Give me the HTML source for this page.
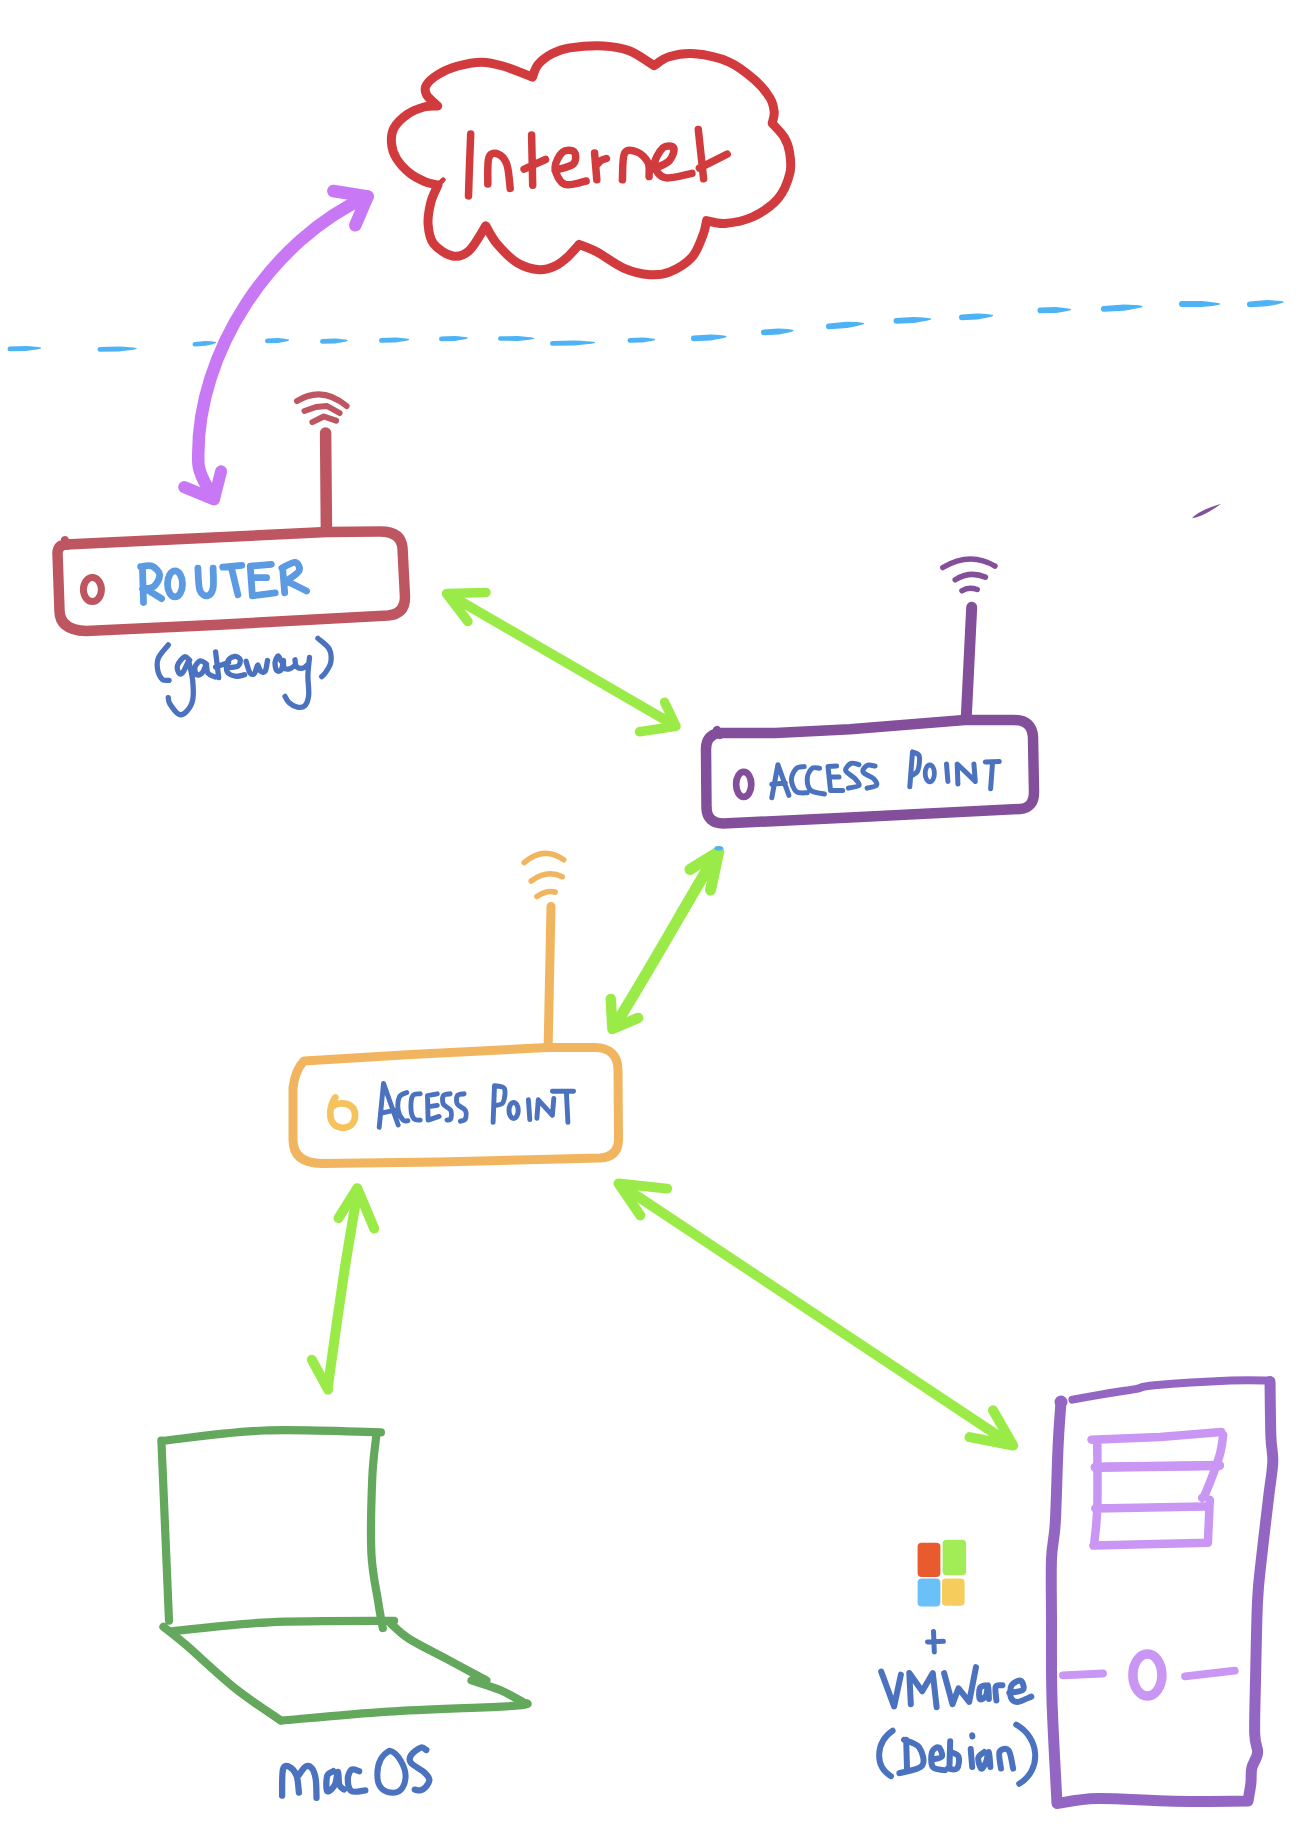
<!DOCTYPE html>
<html><head><meta charset="utf-8"><title>Network diagram</title>
<style>
html,body{margin:0;padding:0;background:#fff;}
body{width:1310px;height:1847px;overflow:hidden;font-family:"Liberation Sans",sans-serif;}
svg{display:block;}
</style></head><body>
<svg width="1310" height="1847" viewBox="0 0 1310 1847" fill="none" stroke-linecap="round" stroke-linejoin="round">
<rect width="1310" height="1847" fill="#fff"/>
<path d="M9.7 346.6L25.9 346Q35.9 346.5 41 347.5L41 348.5Q36 349.8 26 350.9L9.9 351.2A2.3 2.3 0 0 1 9.7 346.6Z" fill="#4db3f4"/>
<path d="M99.7 347.1L118.9 346.5Q130.6 347 136.5 348L136.5 349Q130.7 350.3 119 351.4L99.9 351.7A2.3 2.3 0 0 1 99.7 347.1Z" fill="#4db3f4"/>
<path d="M194.6 342L205.2 341Q212.3 341.2 216 342L216 343Q212.6 344.4 205.6 345.8L195 346.6A2.3 2.3 0 0 1 194.6 342Z" fill="#4db3f4"/>
<path d="M267.2 338.6L278.1 338Q285.3 338.5 289 339.5L289 340.5Q285.5 341.8 278.3 342.9L267.4 343.2A2.3 2.3 0 0 1 267.2 338.6Z" fill="#4db3f4"/>
<path d="M322.2 339.1L335 338.5Q343.3 339 347.5 340L347.5 341Q343.4 342.3 335.2 343.4L322.4 343.7A2.3 2.3 0 0 1 322.2 339.1Z" fill="#4db3f4"/>
<path d="M381.2 338.1L395.4 337.5Q404.4 338 409 339L409 340Q404.6 341.3 395.6 342.4L381.4 342.7A2.3 2.3 0 0 1 381.2 338.1Z" fill="#4db3f4"/>
<path d="M441.2 336.6L454.6 336Q463.2 336.5 467.5 337.5L467.5 338.5Q463.3 339.8 454.8 340.9L441.4 341.2A2.3 2.3 0 0 1 441.2 336.6Z" fill="#4db3f4"/>
<path d="M500.3 336.2L517.8 336.1Q528.6 336.9 534 338L534 339Q528.6 340.1 517.8 340.9L500.3 340.8A2.3 2.3 0 0 1 500.3 336.2Z" fill="#4db3f4"/>
<path d="M552.2 341.1L574.7 340.5Q588.2 341 595 342L595 343Q588.3 344.3 574.8 345.4L552.4 345.7A2.3 2.3 0 0 1 552.2 341.1Z" fill="#4db3f4"/>
<path d="M629.7 338.1L642.5 337.5Q650.8 338 655 339L655 340Q650.9 341.3 642.7 342.4L629.9 342.7A2.3 2.3 0 0 1 629.7 338.1Z" fill="#4db3f4"/>
<path d="M693.7 335.4L710.4 334.4Q721.1 334.8 726.5 336L726.5 337Q721.3 338.8 710.7 340.4L694.1 341.2A2.9 2.9 0 0 1 693.7 335.4Z" fill="#4db3f4"/>
<path d="M763.7 329.4L778.7 328.4Q788.5 328.8 793.5 330L793.5 331Q788.7 332.8 779.1 334.4L764.1 335.2A2.9 2.9 0 0 1 763.7 329.4Z" fill="#4db3f4"/>
<path d="M828.7 323.4L846.7 321.8Q858.1 321.9 864 323L864 324Q858.5 326 847.1 327.9L829.1 329.2A2.9 2.9 0 0 1 828.7 323.4Z" fill="#4db3f4"/>
<path d="M895.7 318L913.7 316.9Q925.2 317.3 931 318.5L931 319.5Q925.4 321.3 914.1 322.9L896 323.7A2.9 2.9 0 0 1 895.7 318Z" fill="#4db3f4"/>
<path d="M961.7 314.4L977.5 313.4Q987.8 313.8 993 315L993 316Q988 317.8 977.9 319.4L962.1 320.2A2.9 2.9 0 0 1 961.7 314.4Z" fill="#4db3f4"/>
<path d="M1040.3 307.5L1055.8 306.9Q1065.9 307.6 1071 309L1071 310Q1066 311.7 1056 313L1040.5 313.3A2.9 2.9 0 0 1 1040.3 307.5Z" fill="#4db3f4"/>
<path d="M1103.7 305.9L1123.6 304.6Q1136.2 304.8 1142.5 306L1142.5 307Q1136.4 308.9 1124 310.7L1104.1 311.7A2.9 2.9 0 0 1 1103.7 305.9Z" fill="#4db3f4"/>
<path d="M1181.9 301.1L1201.5 301Q1213.8 302 1220 303.5L1220 304.5Q1213.8 306 1201.5 307L1181.9 306.9A2.9 2.9 0 0 1 1181.9 301.1Z" fill="#4db3f4"/>
<path d="M1249.7 301.4L1266.9 300.1Q1277.9 300.3 1283.5 301.5L1283.5 302.5Q1278.2 304.4 1267.3 306.2L1250.1 307.2A2.9 2.9 0 0 1 1249.7 301.4Z" fill="#4db3f4"/>
<path d="M438 185C435.9 184.5 429.9 183.7 425.3 181.8C420.7 179.9 415 177.5 410.2 173.6C405.4 169.7 399.6 163.5 396.5 158.5C393.4 153.5 391.9 148.5 391.5 143.4C391.1 138.3 391.3 132.9 394 128C396.7 123.1 402.5 117.7 407.5 114.2C412.5 110.7 419 108.4 424 107C429 105.6 435.4 106.2 437.7 106C435.9 104.2 428.6 98.5 426.7 95C424.8 91.5 424.4 88.7 426.2 85.3C428 81.9 432.6 77.9 437.7 74.7C442.8 71.5 449.7 68.4 457 66.3C464.3 64.2 473.9 62.2 481.7 62.2C489.5 62.2 495.2 63.8 503.7 66.3C512.2 68.8 527.7 75.3 532.5 77.1C533.4 75 534.8 68.6 538 64.7C541.2 60.8 546.6 56.6 551.9 53.8C557.2 51 561.2 49.2 569.8 47.9C578.4 46.6 593.6 45.4 603.5 45.9C613.4 46.4 620.9 47.5 629.3 50.8C637.7 54.1 650 63.2 654.1 65.7C656.6 64.2 662.2 58.8 669 56.8C675.8 54.8 684.9 53 694.8 53.8C704.7 54.6 718.7 57.5 728.6 61.8C738.5 66.1 747.5 73.6 754.4 79.6C761.3 85.6 766.7 92.6 770 98C773.3 103.4 773.8 107.8 774.2 112C774.6 116.2 772.5 121.4 772.2 123.3C774.2 125.6 781.2 132.4 784.1 137.2C787 142 788.5 146 789.5 152C790.5 158 791.8 165.2 789.9 173C788 180.8 784.2 191.3 778 198.6C771.8 205.9 761.2 212.9 752.4 217C743.5 221.1 732.5 222.8 724.9 223.4C717.3 224 709.6 221.1 706.6 220.6C706 223.1 705.4 229.2 702.9 235.3C700.4 241.4 697.4 251.2 691.9 257.3C686.4 263.4 676.9 269 669.9 271.9C662.9 274.8 657.4 275.3 649.8 274.7C642.2 274.1 633 272.1 624.1 268.3C615.2 264.5 604.1 255.8 596.6 251.8C589.1 247.8 582.1 245.6 579.2 244.4C577.2 246.6 571.2 253.8 567.3 257.3C563.4 260.8 560.6 263.4 556 265.5C551.4 267.6 545.8 270.2 539.4 269.8C533 269.4 524.5 267.2 517.4 262.9C510.3 258.5 502.1 249.9 496.8 243.7C491.5 237.5 487.6 228.8 485.8 225.8C483.1 229.9 474.8 245.5 469.3 250.5C463.8 255.5 458.8 257.1 452.8 256C446.9 254.9 437.7 249 433.6 243.7C429.5 238.4 428.6 231.3 428.1 224.4C427.6 217.5 429.2 209 430.8 202.4C432.4 195.8 436.8 187.9 438 185Z" stroke="#d13b3e" stroke-width="9" />
<path d="M437 186L443.2 179.8" stroke="#d13b3e" stroke-width="5" />
<path d="M470.7 133.9C470.5 139.1 469.9 154.7 469.5 165C469.1 175.3 468.7 190.8 468.5 195.9M487.8 184.1C488 179.7 487.1 162.4 488.9 157.4C490.7 152.4 495.5 152.9 498.5 154.2C501.5 155.4 505.1 159.2 507 164.9C508.9 170.6 509.7 184.5 510.2 188.4M531.6 135L532.7 185.2M524.1 169.2L545.5 159.5M555.1 170.4C558.1 169.3 570.1 167.1 573.3 164C576.5 160.9 576.1 154.1 574.3 152.1C572.5 150.1 565.8 149.4 562.6 152.1C559.4 154.8 554.8 162.7 555.1 168.1C555.5 173.5 559.5 182.2 564.7 184.3C569.9 186.5 582.5 181.6 586.1 181M594.6 153.1L596.8 179.8M596.8 164.9C597.5 164.2 599.4 161.6 601 160.5C602.6 159.4 605.5 158.8 606.4 158.5M622.4 179.8C622.8 175.4 622.1 157.7 624.6 153.1C627.1 148.5 633.5 150.5 637.4 152.1C641.3 153.7 646.1 158.6 648.1 162.7C650.1 166.8 648.9 174.3 649.1 176.6M653.4 169.2C656.1 167.8 666 164.2 669.4 160.6C672.8 157 674.8 149.9 673.7 147.8C672.6 145.7 666.2 145 663 147.8C659.8 150.7 654.1 159.9 654.5 164.9C654.9 169.9 659 176.3 665.2 177.7C671.4 179.1 687.5 174.1 691.9 173.4M698.3 129.6L703.6 178.8M699.4 168.1L727.2 154.2" stroke="#d13b3e" stroke-width="7.5" />
<path d="M214 497C203 482 197.5 470 198.3 459C196 352 272 239 367.6 196.5" stroke="#c878f5" stroke-width="12.5" />
<path d="M333.3 191L367.6 196.5L355.3 225.3" stroke="#c878f5" stroke-width="12.5" />
<path d="M184.2 487.1L214 499.4L221.1 471.3" stroke="#c878f5" stroke-width="12" />
<path d="M66 544.5L327 532L379 531.5Q401 531 402.5 548L405 597Q405 614 388 615.5L214 625L86 631Q60 630 59.5 611L57.5 553Q58 545 66 544.5Z" stroke="#bd5660" stroke-width="10.5" />
<path d="M65 540L67 546" stroke="#bd5660" stroke-width="8" />
<path d="M325.6 433L326.4 529.2" stroke="#bd5660" stroke-width="11.5" />
<path d="M297 401Q322.2 385.5 346.6 406M304.5 411L316 407L327 406L339.6 413M312.4 422.1L323.8 416.5L336.1 420.7" stroke="#bd5660" stroke-width="6" />
<ellipse cx="92.4" cy="589.6" rx="9" ry="12" stroke="#bd5660" stroke-width="7"/>
<path d="M142.5 569.1L143.5 602.5M140.6 566.6C142.5 566.5 148.9 564.8 152.1 566.2C155.3 567.6 159.4 571.4 159.7 574.8C160 578.1 156.9 583.9 154 586.3C151.1 588.7 144.4 588.6 142.5 589.1M146.3 589.1L161.6 598.7M197.9 568.1C198.2 571.8 198.2 585.5 199.8 590.1C201.4 594.7 205.2 596.1 207.4 595.8C209.6 595.5 212.2 592.8 213.1 588.2C214 583.6 213.1 571.5 213.1 568.1M222.7 567.2L241.8 565.3M231.3 567.2L237.9 594.8M250.3 567.2L252.3 594.8M250.3 566.2L271.3 564.3M251.3 577.7L266.6 577.7M252.3 595.8L275.2 592.9M282.8 570L284.7 592.9M281.8 568.1C284 567.1 292.3 561.9 295.2 562.4C298.1 562.9 300.6 567.8 299 571C297.4 574.2 287.8 579.8 285.6 581.5M285.6 580.5L306.6 591" stroke="#5c9be1" stroke-width="6.8" />
<ellipse cx="175" cy="583.9" rx="7.5" ry="13" stroke="#5c9be1" stroke-width="6.8"/>
<path d="M168.3 644.9C166.7 647.1 160.2 653.8 158.4 657.9C156.6 662 157 665.8 157.6 669.4C158.2 673 160.3 677.5 162.2 679.3C164.1 681.1 167.9 680.2 169.1 680.4M189.7 660.2C188.8 659.6 186.4 655.9 184.4 656.8C182.4 657.7 178.4 662.8 177.5 665.5C176.6 668.2 178.1 672.1 179 673.2C179.9 674.4 181.2 674.6 182.8 672.4C184.5 670.2 187.9 662.2 188.9 660.2M188.9 661.7C189.5 664.9 192.1 674.4 192.7 680.8C193.3 687.2 193.7 694.8 192.7 699.9C191.7 705 188.9 708.9 186.6 711.3C184.3 713.7 181.8 715.7 179 714.4C176.2 713.1 171.6 706.5 169.8 703.7C168 700.9 168.6 698.6 168.3 697.6M206.5 664C205.5 663.5 202.3 660.4 200.4 660.9C198.5 661.4 195.6 664.8 195 667.1C194.4 669.4 195.4 673.7 196.6 674.7C197.8 675.7 200.4 674.7 201.9 673.2C203.4 671.7 205.1 666.8 205.7 665.5M206.5 665.5C206.8 666.8 206.6 671.3 208 673.2C209.4 675.1 213.8 676.4 214.9 677M215.6 651.8L218.7 677.7M215.6 667.1L228.6 662.5M226.3 667.8C228.2 667.5 235.5 667.7 237.8 666.3C240.1 664.9 240.6 661 240.1 659.4C239.6 657.8 236.7 656.1 234.7 656.4C232.7 656.7 229.2 658.5 227.9 661C226.6 663.5 225.8 669.1 227.1 671.6C228.4 674.1 232.6 675.7 235.5 676.2C238.4 676.7 243.2 675 244.7 674.7M246.1 661.3C246.7 663.2 248.5 670.7 249.9 672.7C251.3 674.7 253.2 674.8 254.5 673.5C255.8 672.2 256.6 665.5 257.6 665.1C258.6 664.7 259.3 670.2 260.6 671.2C261.9 672.2 264.1 673 265.2 671.2C266.3 669.4 267.1 662.3 267.5 660.5M281.2 661.3C280.7 660.4 279.2 655.9 278.2 656C277.2 656.1 275.4 659.7 275.1 662.1C274.8 664.5 275.6 669.2 276.6 670.5C277.6 671.8 280.1 671.4 281.2 669.7C282.3 668 283.1 662 283.5 660.5M283.5 661C283.6 662.2 283.3 666.9 284.3 668.2C285.3 669.5 288.1 669.2 289.6 668.9C291.1 668.6 292.8 667 293.4 666.6M295 659.8C295.2 660.9 295.2 665.2 296.5 666.6C297.8 668 300.8 668.5 302.6 668.2C304.4 668 306.4 665.6 307.2 665.1M309.5 657.5C309.2 660.5 308 669.6 307.9 675.8C307.8 682 309.2 689.9 308.7 694.9C308.2 699.9 306.8 703.6 304.9 705.6C303 707.6 300 707.6 297.3 707.1C294.6 706.6 290.9 704.3 288.9 702.5C286.8 700.7 285.6 697.4 285 696.4M317.9 638.4C319.8 640.2 327.1 645.1 329.3 649.1C331.5 653.1 331.4 658.2 330.8 662.1C330.2 666 327 670.3 325.5 672.7C324 675.1 322.3 676 321.7 676.6" stroke="#4a72bf" stroke-width="5.3" />
<path d="M448 594L674 725" stroke="#9beb48" stroke-width="10" />
<path d="M486 592.5L446.5 593.5L467.9 621.5" stroke="#9beb48" stroke-width="9.5" />
<path d="M664.6 702.2L676 726.3L639.5 731.8" stroke="#9beb48" stroke-width="9.5" />
<path d="M717 853C682.2 910.7 649.8 969.9 614 1027" stroke="#9beb48" stroke-width="11.2" />
<path d="M689.9 869.5L718.8 851.6L710.5 890.1" stroke="#9beb48" stroke-width="11" />
<path d="M610.8 999L612.4 1029L638.1 1017.9" stroke="#9beb48" stroke-width="10.5" />
<ellipse cx="718.8" cy="848.2" rx="4.3" ry="2.3" fill="#4db3f4"/>
<path d="M357 1195C354.7 1209.2 347.8 1248.2 343 1280C338.2 1311.8 330.5 1368.3 328 1386" stroke="#9beb48" stroke-width="10" />
<path d="M338.5 1218.1L357.3 1188.2L374.2 1228.5" stroke="#9beb48" stroke-width="10" />
<path d="M311.8 1359.7L328.1 1389.6" stroke="#9beb48" stroke-width="10" />
<path d="M622 1186L1000 1437" stroke="#9beb48" stroke-width="10" />
<path d="M667.2 1188.6L618.5 1183.5L640.3 1215.4" stroke="#9beb48" stroke-width="10" />
<path d="M993 1410.3L1013.2 1445.5L969.5 1437.1" stroke="#9beb48" stroke-width="10" />
<path d="M718 733L775.5 733L850 729.3L964.8 720L1014 720Q1032 720 1033 737L1034 792Q1034 808 1020 809L850 817.5L723 823.5Q707 823 706.5 808L706 749Q706 736 718 733Z" stroke="#834f9a" stroke-width="10.5" />
<path d="M717 730L720 735" stroke="#834f9a" stroke-width="8" />
<path d="M971.7 607.3L966.2 718.6" stroke="#834f9a" stroke-width="11" />
<path d="M942.8 567.5Q970.1 551.2 995 566.1M955.2 579.8Q969.7 570.5 985.4 577.1M962 590.8Q968.4 586.4 977.2 589.5" stroke="#834f9a" stroke-width="5.5" />
<ellipse cx="743.7" cy="784.3" rx="7.6" ry="12.5" stroke="#834f9a" stroke-width="6.7"/>
<path d="M771.8 797.7L777.9 764.7L788.9 795.3M771.8 784.3L785.3 783M804.2 766.6C802.9 766.9 798.4 766.3 796.3 768.4C794.2 770.5 791.4 775.5 791.4 779.4C791.4 783.3 793.6 789.4 796.3 791.6C798.9 793.8 805.5 792.6 807.3 792.8M819.5 768.2C818.3 768.2 814.1 766.7 812.1 768.4C810.1 770.1 807.5 774.5 807.3 778.2C807.1 781.9 808 787.8 810.9 790.4C813.8 793 822.1 793.4 824.4 794M836.6 766L828 766.6L830.5 790.4L842.7 790.4M829.2 777L839 777M859 764.7C857.7 764.5 853.2 762.4 851 763.4C848.8 764.4 845 768.2 845.7 770.7C846.4 773.2 852.8 776.2 855 778.7C857.2 781.2 860.1 783.8 859 785.4C857.9 787 850.2 787.6 848.4 788.1M875.1 766C873.8 765.9 869.1 764.4 867.1 765.4C865.1 766.4 862 769.9 863.1 772.1C864.2 774.3 871.5 776.5 873.7 778.7C875.9 780.9 877.5 783.8 876.4 785.4C875.3 787 868.6 787.6 867.1 788.1M912.5 752L909.8 786.8M912.5 752C913.6 752.7 918.3 752.9 919.2 756C920.1 759.1 919.1 767.4 917.8 770.7C916.4 774.1 912.2 775.2 911.1 776.1M946.5 764L947.9 781.4M957.9 784.1L957.2 764L975.3 781.4L973.9 764M985.3 762L999.3 761.4M992.6 762L990.6 788.8" stroke="#4a72bf" stroke-width="5" />
<ellipse cx="929.8" cy="773.4" rx="4.6" ry="8.4" stroke="#4a72bf" stroke-width="4.8"/>
<path d="M1192 518.2Q1202.5 517.4 1221.1 503.7Q1198.9 510.3 1192 518.2Z" fill="#834f9a"/>
<path d="M304 1061L411.2 1054.6L546.8 1047.6L594.8 1047.6Q618 1048 618 1070L618.5 1140Q618 1157 600 1158L439.4 1162L322 1163.5Q293 1163 293 1140L293 1088Q295 1070 304 1061Z" stroke="#f2b55f" stroke-width="9" />
<path d="M551 906.4L548.2 1043.3" stroke="#f2b55f" stroke-width="9" />
<path d="M524.2 862.6Q544 845.8 563.7 859.8M531.2 881Q546.8 869.1 562.3 876.7M536.9 896.5Q547.5 889.6 555.2 892.2" stroke="#f2b55f" stroke-width="5.5" />
<path d="M335.3 1097.5C330 1105 327 1120 336 1126C344 1130 354 1127 355 1117C356 1106 348 1103 340 1103.5C335 1104 333 1106 332 1107" stroke="#f5c25c" stroke-width="6.7" />
<path d="M379.2 1127.4L383.5 1083.4L398.2 1125M383.5 1112.7L394.5 1110.3M406.7 1092.6C405.5 1093.3 400.8 1094 399.4 1096.9C398 1099.9 397.6 1106.4 398.2 1110.3C398.8 1114.2 401.5 1118.4 403.1 1120.1C404.7 1121.8 407.1 1120.6 407.9 1120.7M420.2 1093.8C419 1094.1 414.3 1093 412.8 1095.6C411.3 1098.1 410.8 1105.2 411 1109.1C411.2 1113 412.5 1117.1 414 1118.9C415.5 1120.7 419.2 1119.9 420.2 1120.1M437.3 1093.8L427.5 1095.6L428.1 1120.1L439.1 1116.4M428.7 1106.6L437.3 1105.4M450.1 1093.8C449 1094.1 444.5 1093.9 443.4 1095.6C442.3 1097.3 442.2 1101.8 443.4 1104.2C444.6 1106.7 449.5 1107.8 450.7 1110.3C451.9 1112.8 451.3 1117.3 450.7 1118.9C450.1 1120.5 447.6 1119.9 447 1120.1M464.1 1093.8C463 1094.1 458.5 1093.9 457.4 1095.6C456.3 1097.3 456.1 1101.8 457.4 1104.2C458.7 1106.7 464 1107.8 465.3 1110.3C466.6 1112.8 466.1 1117.1 465.3 1118.9C464.5 1120.7 461.3 1120.9 460.5 1121.3M493.1 1122.4L494.5 1085.7M494.5 1085.7C496.1 1086.2 503 1085.7 504.4 1088.5C505.8 1091.3 504.6 1099.8 503 1102.6C501.4 1105.4 495.9 1105 494.5 1105.5M528.4 1099.8L529.8 1119.6M536.9 1118.2L538.3 1099.8L552.4 1115.3L553.8 1098.4M552.4 1091.3L573.6 1091.3M566.5 1094.2L567.9 1122.4" stroke="#4a72bf" stroke-width="4.9" />
<ellipse cx="513.6" cy="1110.4" rx="4.6" ry="8" stroke="#4a72bf" stroke-width="5"/>
<path d="M161.5 1441C178.7 1439.2 227.9 1431.9 264.5 1430.5C301.1 1429.1 361.5 1432.1 380.9 1432.4M161.4 1440.5L169 1620.7M376.1 1437.2C375.5 1443.9 373.1 1457.9 372.3 1477.3C371.5 1496.7 370.4 1532.9 371.4 1553.6C372.4 1574.3 376.2 1588.9 378.1 1601.3C380 1613.7 382 1623.5 382.8 1628M170.8 1631.3C187.2 1629.8 231.9 1624 269.1 1622.3C306.3 1620.5 373.3 1621 394.1 1620.8M163.4 1626.8C167.1 1629.8 173.5 1634.3 185.7 1644.7C197.8 1655.1 220.4 1676.7 236.3 1689.3C252.2 1701.9 273.6 1715.4 281 1720.6M281 1720.6C298.9 1719.1 349 1714.1 388.2 1711.6C427.4 1709.1 493.9 1707.3 516.2 1705.7C538.5 1704.1 521.1 1702.6 522.1 1702M522.1 1701.5C518.4 1699.6 508.4 1693.5 500 1690C491.6 1686.5 476.2 1682 471.5 1680.4M486.4 1680.4C479.9 1676.9 460.6 1666.5 447.7 1659.5C434.8 1652.5 418.4 1644.7 409 1638.7C399.6 1632.8 394.1 1626.3 391.1 1623.8" stroke="#63a85d" stroke-width="8.2" />
<path d="M282.1 1795.6C282.2 1791.3 281.8 1774.5 282.9 1769.7C284 1764.9 286.7 1765.6 289 1766.6C291.3 1767.6 295 1771.5 296.6 1775.8C298.2 1780.1 298.5 1789.8 298.9 1792.6M298.2 1775.8C299.5 1774.3 303.5 1767.9 305.8 1766.6C308.1 1765.3 310.2 1766.2 311.9 1768.2C313.5 1770.2 314.9 1774 315.7 1778.9C316.5 1783.9 316.4 1794.7 316.5 1797.9M333.3 1771.2C332.3 1772 328.2 1772.5 327.2 1775.8C326.2 1779.1 325.9 1789.6 327.2 1791.1C328.5 1792.6 333 1788.2 334.8 1785C336.6 1781.8 337.1 1772 337.9 1772C338.7 1772 338.4 1782.1 339.4 1785C340.4 1787.9 343.2 1788.8 344 1789.5M359.2 1771.2C357.9 1771 353.5 1768.4 351.6 1769.7C349.7 1771 347.8 1775.3 347.8 1778.9C347.8 1782.5 348.7 1789.2 351.6 1791.1C354.5 1793 363 1790.4 365.3 1790.3M426.3 1750C425.4 1749.6 423.4 1746.7 420.9 1747.6C418.3 1748.5 412.6 1752.8 411 1755.3C409.4 1757.8 408.8 1760.1 411 1762.9C413.2 1765.7 420.9 1769.3 424 1772.1C427.1 1774.9 429.1 1777.2 429.3 1779.7C429.6 1782.2 427 1785.5 425.5 1787.3C424 1789.1 422 1790 420.2 1790.4C418.4 1790.8 415.7 1789.7 414.8 1789.6" stroke="#4a72bf" stroke-width="6.3" />
<path d="M389.6 1750.7C380 1756 377 1766 377.4 1776C377.5 1788 384 1792.7 393.4 1792.7C402 1792.7 405.6 1784 405.6 1776C405.6 1768 398 1752 389.6 1750.7Z" stroke="#4a72bf" stroke-width="6" />
<path d="M1270 1381.5C1270.2 1390.7 1270.4 1423.5 1270.9 1436.8C1271.4 1450.1 1273.1 1452.1 1272.8 1461.6C1272.5 1471.1 1270.9 1477.8 1269 1494C1267.1 1510.2 1263.3 1541.2 1261.4 1558.9C1259.5 1576.6 1258.6 1580.4 1257.6 1600C1256.6 1619.6 1256.1 1654 1255.6 1676.3C1255.1 1698.6 1254.4 1720.9 1254.7 1733.6C1255 1746.3 1258.1 1747 1257.6 1752.7C1257.1 1758.4 1252.9 1762.8 1251.8 1767.9C1250.7 1773 1251.5 1777.7 1250.9 1783.2C1250.3 1788.7 1248.5 1798 1248 1801M1248 1801C1235.6 1801 1198.7 1801.7 1173.6 1801.3C1148.5 1800.9 1116.7 1798.1 1097.3 1798.5C1077.9 1798.9 1063.7 1802.7 1057 1803.5M1057 1803.5C1056.2 1786.2 1052.9 1730.6 1052 1700C1051.1 1669.4 1051.6 1643.5 1051.5 1620C1051.4 1596.5 1050.9 1575.1 1051.5 1558.9C1052.1 1542.7 1054.2 1541.5 1055.3 1522.7C1056.4 1503.9 1057.1 1466.4 1058.1 1446.3C1059 1426.2 1060.5 1409.4 1061 1402" stroke="#9466c4" stroke-width="11" />
<circle cx="1061" cy="1402" r="6.5" fill="#9466c4"/>
<path d="M1072.4 1399.6C1078.7 1398.5 1099.5 1394.8 1110 1393C1120.5 1391.2 1128 1390.4 1135.4 1389.1C1142.8 1387.8 1138.6 1386.7 1154.5 1385.3C1170.4 1383.9 1211.5 1381.3 1230.8 1380.5C1250 1379.7 1263.5 1380.5 1270 1380.5" stroke="#9466c4" stroke-width="8" />
<path d="M1091.5 1439.7L1160 1437L1221.3 1432M1223.2 1434.9C1222.6 1438.4 1222.3 1446.4 1219.4 1455.9C1216.5 1465.4 1208.9 1485.1 1206 1492.1C1203.1 1499.1 1202.8 1496.9 1202.2 1497.9M1095.3 1467.3L1219.4 1465.4M1095.3 1508.4L1204.1 1506.5M1097.3 1442.5C1097.3 1453.3 1097.8 1490.9 1097.3 1507.4C1096.8 1524 1094.9 1536.1 1094.4 1541.8M1093.4 1545.6L1207.9 1542.7M1209.8 1499.8L1207.9 1541.8" stroke="#c996f3" stroke-width="8.5" />
<path d="M1095.3 1467.3L1219.4 1465.4" stroke="#c996f3" stroke-width="9.5" />
<ellipse cx="1147.4" cy="1675" rx="14.5" ry="21" stroke="#c996f3" stroke-width="9.5"/>
<path d="M1063 1675.4L1103 1673.5M1185 1676.3L1234.7 1670.6" stroke="#c996f3" stroke-width="7.8" />
<rect x="917.6" y="1542.7" width="22.8" height="34.2" rx="4" fill="#e95a2f"/>
<rect x="942.6" y="1539.7" width="23.5" height="35.6" rx="4" fill="#a2ec58"/>
<rect x="917.6" y="1578.4" width="22.8" height="28" rx="4" fill="#6bc0f7"/>
<rect x="941.9" y="1578.4" width="22.7" height="27.3" rx="4" fill="#f6cd5c"/>
<path d="M933.5 1631.4L934.3 1651.9M927.5 1642L943.4 1641.3" stroke="#4a72bf" stroke-width="5" />
<path d="M881.2 1671.6L894.1 1706.5L900.9 1674.6M910.8 1704.2L909.3 1673.1L922.2 1691.3L932.8 1673.1L936.6 1707.2M944.1 1673.1L952.5 1704.2L958.5 1688.3L969.2 1701.9L976 1667.1M985.1 1685.3C984.2 1685.8 980.7 1686 979.8 1688.3C978.9 1690.6 978.8 1697.6 979.8 1698.9C980.8 1700.2 984.4 1698.2 985.8 1695.9C987.2 1693.6 987.6 1684.8 988.1 1685.3C988.6 1685.8 988.8 1696.6 988.9 1698.9M996.4 1700.4C996.3 1698.1 994.7 1689.3 995.7 1686.8C996.7 1684.3 1001.4 1685.5 1002.5 1685.3M1009.3 1692.8C1011.6 1692.3 1021.1 1691.8 1023 1689.8C1024.9 1687.8 1022.6 1681.5 1020.7 1680.7C1018.8 1680 1013.2 1682.5 1011.6 1685.3C1010 1688.1 1009.9 1694.6 1010.9 1697.4C1011.9 1700.2 1014.3 1702 1017.7 1701.9C1021.1 1701.8 1029 1697.5 1031.3 1696.6M892.6 1730.7C876 1742 874 1766 891 1776.2M906.2 1739.8L907 1768.6M904 1739.8C906.5 1741 916.1 1743 919.1 1747.3C922.1 1751.6 925.5 1761.3 922.2 1765.6C918.9 1769.9 903.2 1771.9 899.4 1773.2M932.8 1759.5C934.3 1759 940.9 1758.5 941.9 1756.5C942.9 1754.5 940.4 1748.2 938.8 1747.4C937.1 1746.7 933 1748.7 932 1752C931 1755.3 930.6 1764.1 932.8 1767.1C934.9 1770.1 942.9 1769.7 944.9 1770.2M950.2 1741.3L949.4 1768.6M950.2 1752C951.6 1752.8 957.4 1753.7 958.5 1756.5C959.6 1759.3 958.8 1766.6 957 1768.6C955.2 1770.6 949.4 1768.6 947.9 1768.6M970.7 1748.9L972.2 1767.1M972.2 1735.3L972.4 1736.5M984.3 1752C983.3 1753 978.8 1755.2 978.3 1758C977.8 1760.8 980 1767.8 981.3 1768.6C982.5 1769.4 984.5 1765.4 985.8 1762.6C987.1 1759.8 988.1 1751.2 988.9 1752C989.7 1752.8 990.1 1764.6 990.4 1767.1M1001 1768.6C1000.8 1765.8 998.2 1755 999.5 1752C1000.8 1749 1006.3 1747.6 1008.6 1750.4C1010.9 1753.2 1012.4 1765.6 1013.1 1768.6M1016.2 1724.7C1040 1738 1042 1770 1019.2 1783.8" stroke="#4a72bf" stroke-width="6" />
</svg>
</body></html>
